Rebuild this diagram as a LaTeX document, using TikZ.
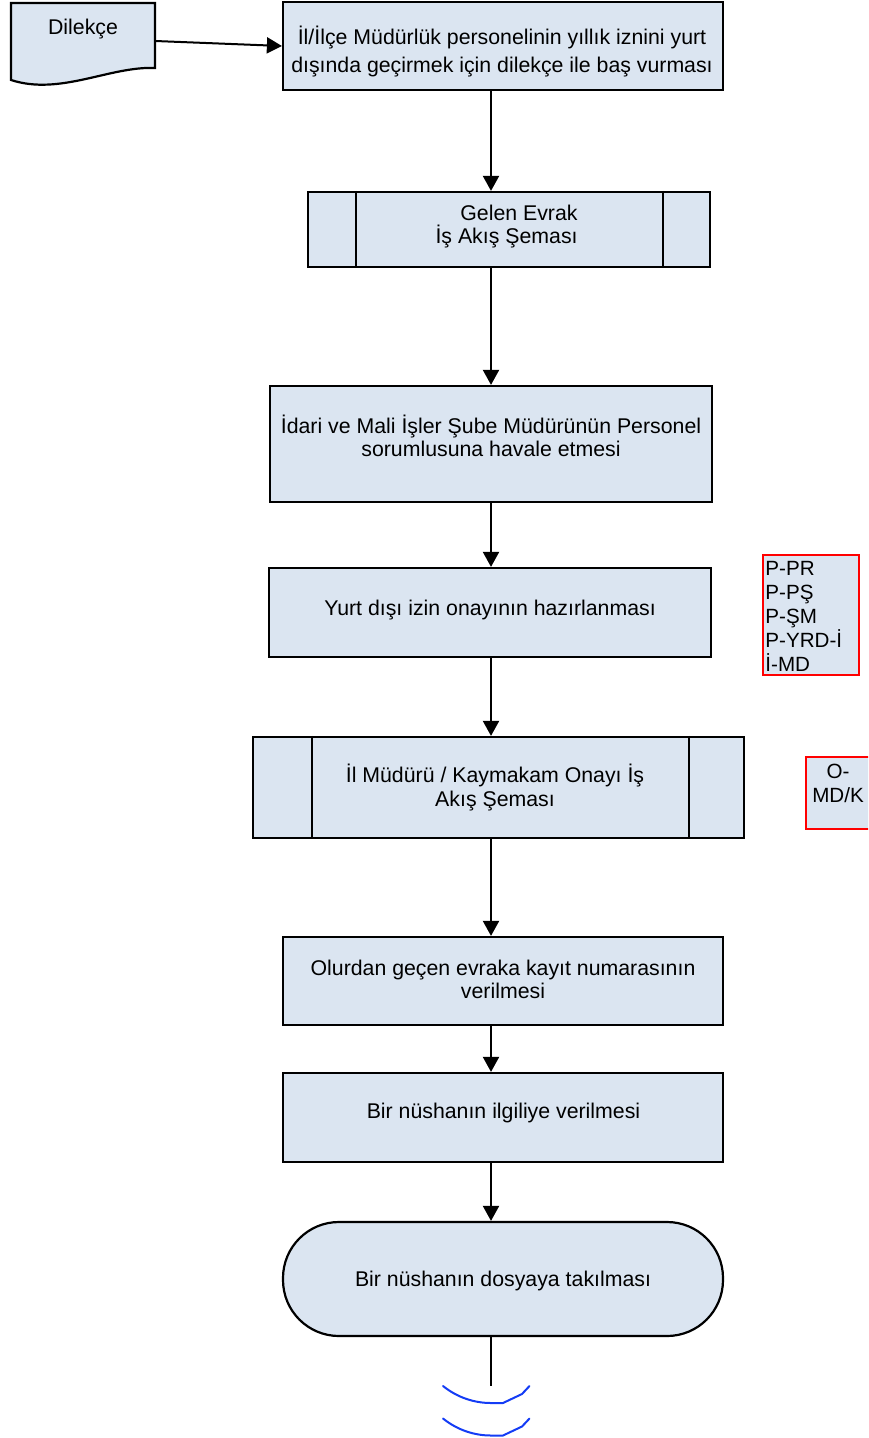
\documentclass[tikz,border=0pt]{standalone}
\usepackage{fontspec}
\setmainfont{Liberation Sans}
\usetikzlibrary{arrows.meta,calc}
\definecolor{boxfill}{HTML}{DBE5F1}
\definecolor{penblue}{RGB}{20,60,245}
\begin{document}
\begin{tikzpicture}[x=0.5pt,y=-0.5pt,
  box/.style={draw=black,line width=1.1pt,fill=boxfill,inner sep=0pt},
  redbox/.style={draw=red,line width=1pt,fill=boxfill,inner sep=0pt},
  txt/.style={inner sep=0pt,font=\fontsize{10.65pt}{11.6pt}\selectfont,align=center},
  smalltxt/.style={inner sep=0pt,font=\fontsize{10.3pt}{11.9pt}\selectfont},
  conn/.style={line width=1pt,draw=black},
  arr/.style={conn,-{Triangle[length=7.5pt,width=8pt]}},
  pen/.style={draw=penblue,line width=1pt,line join=round,line cap=round}
]
\clip (0,0) rectangle (868,1438);

% Dilekce document shape
\draw[box] (11,3) -- (155,3) -- (155,68) .. controls (110,66) and (60,96) .. (11,80) -- cycle;
\node[txt,anchor=base] (dil) at (83,34.3) {Dilekçe};
\coordinate (dilR) at (155,41);
\coordinate (ax) at (491,0);

% boxes
\node[box,minimum width=220pt,minimum height=44pt] (b1) at (503,46) {};
\node[box,minimum width=201pt,minimum height=37.5pt] (b2) at (509,229.5) {};
\node[box,minimum width=221pt,minimum height=58pt] (b3) at (491,444) {};
\node[box,minimum width=221pt,minimum height=44.5pt] (b4) at (490,612.5) {};
\node[box,minimum width=245.5pt,minimum height=50.5pt] (b5) at (498.5,787.5) {};
\node[box,minimum width=220pt,minimum height=44pt] (b6) at (503,981) {};
\node[box,minimum width=220pt,minimum height=44.5pt] (b7) at (503,1117.5) {};
\node[box,minimum width=220pt,minimum height=57pt,rounded corners=28pt] (b8) at (503,1279) {};

% predefined-process side bars
\draw[box] ($(b2.north west)+(49,0)$) -- ($(b2.south west)+(49,0)$);
\draw[box] ($(b2.north east)+(-48,0)$) -- ($(b2.south east)+(-48,0)$);
\draw[box] ($(b5.north west)+(60,0)$) -- ($(b5.south west)+(60,0)$);
\draw[box] ($(b5.north east)+(-56,0)$) -- ($(b5.south east)+(-56,0)$);

% texts (base anchor = baseline of the last line)
\node[txt,anchor=base,font=\fontsize{10.65pt}{14.3pt}\selectfont] (t1) at (502,72.7) {İl/İlçe Müdürlük personelinin yıllık iznini yurt\\dışında geçirmek için dilekçe ile baş vurması};
\node[txt,anchor=base east,align=right] (t2) at (578,243.3) {Gelen Evrak\\İş Akış Şeması};
\node[txt,anchor=base] (t3) at (491,456.7) {İdari ve Mali İşler Şube Müdürünün Personel\\sorumlusuna havale etmesi};
\node[txt,anchor=base] (t4) at (490,615) {Yurt dışı izin onayının hazırlanması};
\node[txt,anchor=base] (t5) at (495,806) {İl Müdürü / Kaymakam Onayı İş\\Akış Şeması};
\node[txt,anchor=base] (t6) at (503,998.3) {Olurdan geçen evraka kayıt numarasının\\verilmesi};
\node[txt,anchor=base] (t7) at (503.5,1118) {Bir nüshanın ilgiliye verilmesi};
\node[txt,anchor=base] (t8) at (503,1286) {Bir nüshanın dosyaya takılması};

% red boxes
\node[redbox,minimum width=48pt,minimum height=60pt] (r1) at (811,615) {};
\node[smalltxt,anchor=base west,align=left] (rt1) at (765,671) {P-PR\\P-PŞ\\P-ŞM\\P-YRD-İ\\İ-MD};
\node[redbox,minimum width=32pt,minimum height=36pt] (r2) at (838,793) {};
\node[smalltxt,anchor=base,align=center] (rt2) at (838,802) {O-\\MD/K};

% connectors
\draw[arr] (dilR) -- (b1.west);
\draw[arr] (b1.south -| ax) -- (b2.north -| ax);
\draw[arr] (b2.south -| ax) -- (b3.north -| ax);
\draw[arr] (b3.south -| ax) -- (b4.north -| ax);
\draw[arr] (b4.south -| ax) -- (b5.north -| ax);
\draw[arr] (b5.south -| ax) -- (b6.north -| ax);
\draw[arr] (b6.south -| ax) -- (b7.north -| ax);
\draw[arr] (b7.south -| ax) -- (b8.north -| ax);
\coordinate (endc) at (491,1386);
\draw[conn] (b8.south -| ax) -- (endc);

% blue pen strokes
\draw[pen] (443,1386) .. controls (458,1398) and (475,1403) .. (491,1403) -- (503,1403) -- (522,1394) -- (529.5,1386);
\draw[pen] (443,1418.5) .. controls (458,1430.5) and (475,1435.5) .. (491,1435.5) -- (503,1435.5) -- (522,1426.5) -- (529.5,1418.5);
\end{tikzpicture}
\end{document}
